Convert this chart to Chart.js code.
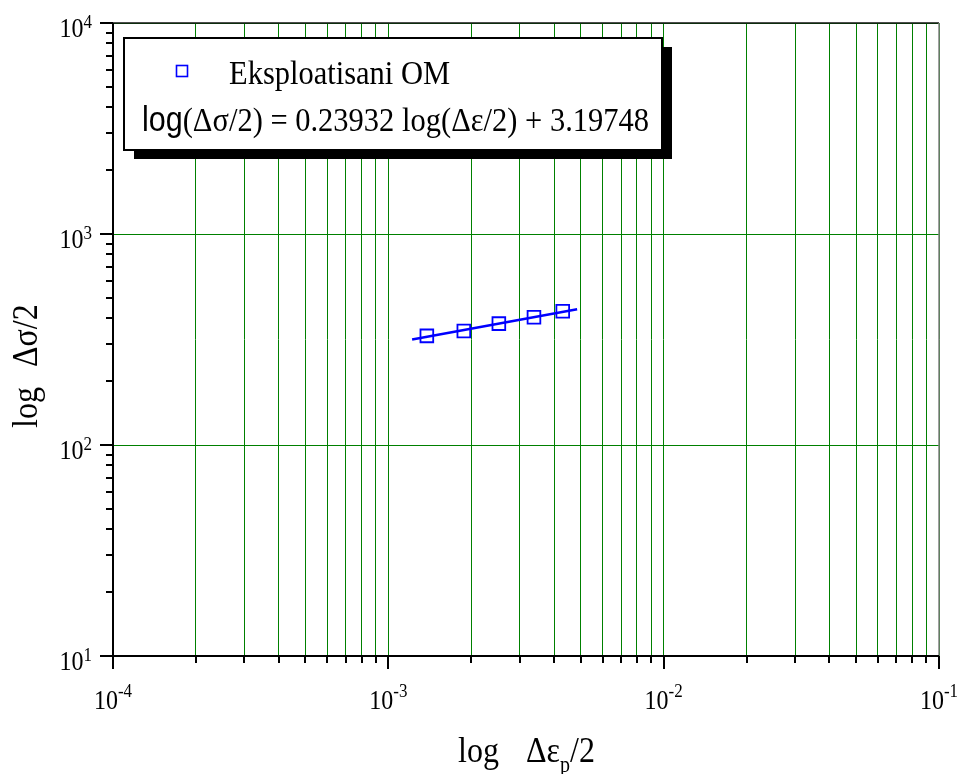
<!DOCTYPE html>
<html>
<head>
<meta charset="utf-8">
<script src="https://cdn.jsdelivr.net/npm/chart.js@4.4.1/dist/chart.umd.min.js"></script>
<style>
html,body{margin:0;padding:0;background:#fff;}
canvas{display:block;}
</style>
</head>
<body>
<canvas id="c" width="962" height="774"></canvas>
<script>
// ---------- data ----------
const seriesName = 'Eksploatisani OM';
const equationLog = 'log';
const equationRest = '(Δσ/2) = 0.23932 log(Δε/2) + 3.19748';
const strainAmp = [0.00138, 0.00188, 0.00252, 0.00338, 0.00430];
const stressAmp = [329, 347, 376, 403, 430];
const fitStrain = [0.00122, 0.00485];
const fitStress = [316, 440];
const xMin = 1e-4, xMax = 1e-1;
const yMin = 10, yMax = 1e4;
const xGridValues = [1e-4,2e-4,3e-4,4e-4,5e-4,6e-4,7e-4,8e-4,9e-4,
  1e-3,2e-3,3e-3,4e-3,5e-3,6e-3,7e-3,8e-3,9e-3,
  1e-2,2e-2,3e-2,4e-2,5e-2,6e-2,7e-2,8e-2,9e-2,1e-1];
const yGridValues = [10, 100, 1000, 10000];
const xLabelExps = ['-4','-3','-2','-1'];
const yLabelExps = ['1','2','3','4'];
const xTitleParts = ['log', 'Δε', 'p', '/2'];
const yTitleParts = ['log', 'Δσ/2'];

// ---------- style ----------
const VS = 1.13; // vertical glyph stretch
const SERIF = "'Liberation Serif','Times New Roman',serif";
const SANS = "'Liberation Sans',Arial,sans-serif";
const BLUE = '#0000ff';
const GREEN = '#008000';

function stretchedText(ctx, str, x, y, font, align, rot) {
  ctx.save();
  ctx.translate(x, y);
  if (rot) ctx.rotate(rot);
  ctx.scale(1, VS);
  ctx.font = font;
  ctx.textAlign = align || 'left';
  ctx.textBaseline = 'alphabetic';
  ctx.fillStyle = '#000';
  ctx.fillText(str, 0, 0);
  ctx.restore();
}
function textW(ctx, str, font) { ctx.save(); ctx.font = font; const w = ctx.measureText(str).width; ctx.restore(); return w; }

function drawPow(ctx, exp, x, baseY, raise, align) {
  const fb = '24px ' + SERIF, fe = '17px ' + SERIF;
  const w1 = textW(ctx, '10', fb), w2 = textW(ctx, exp, fe);
  const w = w1 + w2;
  let x0 = align === 'right' ? x - w : x - w / 2;
  stretchedText(ctx, '10', x0, baseY, fb, 'left');
  stretchedText(ctx, exp, x0 + w1, baseY - raise, fe, 'left');
}

const decor = {
  id: 'decor',
  afterDraw(chart) {
    const ctx = chart.ctx, xs = chart.scales.x, ys = chart.scales.y, ca = chart.chartArea;
    const L = ca.left, R = ca.right, T = ca.top, B = ca.bottom;
    ctx.save();
    // top & right frame
    ctx.strokeStyle = '#111'; ctx.lineWidth = 1.5;
    ctx.beginPath(); ctx.moveTo(L, T); ctx.lineTo(R, T); ctx.stroke();
    ctx.strokeStyle = '#808080'; ctx.lineWidth = 1.5;
    ctx.beginPath(); ctx.moveTo(R, T); ctx.lineTo(R, B); ctx.stroke();
    // left & bottom axes
    ctx.strokeStyle = '#000'; ctx.lineWidth = 2;
    ctx.beginPath(); ctx.moveTo(L, T); ctx.lineTo(L, B); ctx.stroke();
    ctx.beginPath(); ctx.moveTo(L, B); ctx.lineTo(R, B); ctx.stroke();
    // x ticks
    xGridValues.forEach(v => {
      const p = Math.round(xs.getPixelForValue(v));
      const major = Math.abs(Math.log10(v) - Math.round(Math.log10(v))) < 1e-9;
      ctx.beginPath(); ctx.moveTo(p, B); ctx.lineTo(p, B + (major ? 13 : 7)); ctx.stroke();
    });
    // y ticks
    for (let d = 1; d <= 3; d++) {
      for (let m = 1; m <= 9; m++) {
        const v = m * Math.pow(10, d);
        const p = Math.round(ys.getPixelForValue(v));
        ctx.beginPath(); ctx.moveTo(L, p); ctx.lineTo(L - (m === 1 ? 13 : 7), p); ctx.stroke();
      }
    }
    { const p = Math.round(ys.getPixelForValue(1e4)); ctx.beginPath(); ctx.moveTo(L, p); ctx.lineTo(L - 13, p); ctx.stroke(); }
    // tick labels
    xLabelExps.forEach(e => {
      const p = xs.getPixelForValue(Math.pow(10, +e));
      drawPow(ctx, e, p, 709, 12, 'center');
    });
    yLabelExps.forEach(e => {
      const p = ys.getPixelForValue(Math.pow(10, +e));
      drawPow(ctx, e, 92, p + 14, 9.5, 'right');
    });
    // axis titles
    const ft = '32px ' + SERIF;
    stretchedText(ctx, xTitleParts[0], 458, 762, ft);
    stretchedText(ctx, xTitleParts[1], 526, 762, ft);
    const wde = textW(ctx, xTitleParts[1], ft);
    stretchedText(ctx, xTitleParts[2], 526 + wde, 772, '20px ' + SERIF);
    const wp = textW(ctx, xTitleParts[2], '20px ' + SERIF);
    stretchedText(ctx, xTitleParts[3], 526 + wde + wp, 762, ft);
    stretchedText(ctx, yTitleParts[0], 37, 428, ft, 'left', -Math.PI / 2);
    stretchedText(ctx, yTitleParts[1], 37, 367, ft, 'left', -Math.PI / 2);
    // legend box with shadow
    const bx = 124, by = 38, bw = 538, bh = 112;
    ctx.fillStyle = '#000';
    ctx.fillRect(bx + 10, by + 9, bw, bh);
    ctx.fillStyle = '#fff';
    ctx.fillRect(bx, by, bw, bh);
    ctx.strokeStyle = '#000'; ctx.lineWidth = 2;
    ctx.strokeRect(bx, by, bw, bh);
    ctx.strokeStyle = BLUE; ctx.lineWidth = 1.6;
    ctx.strokeRect(176.5, 65.5, 11, 11);
    stretchedText(ctx, seriesName, 229, 83.5, '30.5px ' + SERIF);
    const fl = '30.5px ' + SANS;
    stretchedText(ctx, equationLog, 142, 130.5, fl);
    const wl = textW(ctx, equationLog, fl);
    stretchedText(ctx, equationRest, 142 + wl, 130.5, '30.5px ' + SERIF);
    ctx.restore();
  }
};

new Chart(document.getElementById('c'), {
  type: 'scatter',
  data: {
    datasets: [
      {
        label: seriesName,
        data: strainAmp.map((x, i) => ({ x, y: stressAmp[i] })),
        pointStyle: 'rect',
        pointRadius: 9,
        borderColor: BLUE,
        backgroundColor: 'rgba(0,0,0,0)',
        borderWidth: 1.8,
        showLine: false
      },
      {
        label: 'fit',
        data: fitStrain.map((x, i) => ({ x, y: fitStress[i] })),
        showLine: true,
        pointRadius: 0,
        borderColor: BLUE,
        borderWidth: 2.5,
        fill: false
      }
    ]
  },
  options: {
    responsive: false,
    animation: false,
    devicePixelRatio: 1,
    layout: { padding: { left: 113, right: 23, top: 23, bottom: 118 } },
    plugins: { legend: { display: false }, tooltip: { enabled: false } },
    scales: {
      x: {
        type: 'logarithmic', min: xMin, max: xMax,
        afterBuildTicks: s => { s.ticks = xGridValues.map(v => ({ value: v })); },
        ticks: { display: false },
        grid: { color: GREEN, lineWidth: 1, drawTicks: false },
        border: { display: false }
      },
      y: {
        type: 'logarithmic', min: yMin, max: yMax,
        afterBuildTicks: s => { s.ticks = yGridValues.map(v => ({ value: v })); },
        ticks: { display: false },
        grid: { color: GREEN, lineWidth: 1, drawTicks: false },
        border: { display: false }
      }
    }
  },
  plugins: [decor]
});
</script>
</body>
</html>
